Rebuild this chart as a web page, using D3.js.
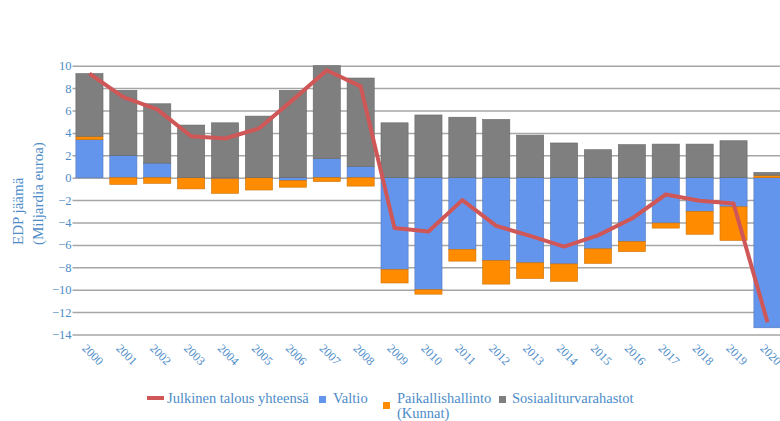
<!DOCTYPE html>
<html>
<head>
<meta charset="utf-8">
<script src="https://cdn.jsdelivr.net/npm/d3@7"></script>
<style>
  body { margin: 0; background: #fff; }
  svg text { font-family: "Liberation Serif", "DejaVu Serif", serif; }
</style>
</head>
<body>
<div id="chart"></div>
<script>
const years = [2000, 2001, 2002, 2003, 2004, 2005, 2006, 2007, 2008, 2009, 2010,
               2011, 2012, 2013, 2014, 2015, 2016, 2017, 2018, 2019, 2020];
const valtio = [3.4, 2.0, 1.3, 0.0, -0.1, 0.0, -0.25, 1.7, 1.0, -8.2, -10.0,
                -6.4, -7.4, -7.6, -7.7, -6.35, -5.7, -4.05, -3.0, -2.6, -13.4];
const paikallis = [0.3, -0.6, -0.5, -1.0, -1.3, -1.1, -0.6, -0.35, -0.75, -1.2, -0.4,
                   -1.05, -2.1, -1.4, -1.55, -1.3, -0.9, -0.45, -2.05, -3.0, 0.22];
const sosiaali = [5.6, 5.8, 5.3, 4.7, 4.9, 5.5, 7.8, 8.3, 7.9, 4.9, 5.6,
                  5.4, 5.2, 3.8, 3.1, 2.5, 2.95, 3.0, 3.0, 3.3, 0.25];
const yhteensa = [9.3, 7.2, 6.1, 3.7, 3.5, 4.4, 6.95, 9.6, 8.15, -4.5, -4.8,
                  -2.0, -4.3, -5.2, -6.15, -5.15, -3.65, -1.5, -2.05, -2.3, -12.9];
const yTicks = [-14, -12, -10, -8, -6, -4, -2, 0, 2, 4, 6, 8, 10];

const keys = ["Valtio", "Paikallishallinto", "Sosiaaliturvarahastot"];
const colors = { Valtio: "#6495ed", Paikallishallinto: "#ff8c00", Sosiaaliturvarahastot: "#7f7f7f" };
const lineColor = "#cf5757";
const textColor = "#4d8cc8";

const width = 780, height = 421;
const step = 33.9;
const plotLeft = 72.5;

const svg = d3.select("#chart").append("svg")
    .attr("width", width)
    .attr("height", height);

const rows = years.map((yr, i) => ({
    year: yr,
    Valtio: valtio[i],
    Paikallishallinto: paikallis[i],
    Sosiaaliturvarahastot: sosiaali[i]
}));

const x = d3.scaleBand()
    .domain(years)
    .range([plotLeft, plotLeft + step * years.length])
    .paddingInner(0.2)
    .paddingOuter(0.1);

const y = d3.scaleLinear()
    .domain([-14, 10])
    .range([334.5, 65.7]);

// grid + y axis labels
const yAxis = svg.append("g")
    .attr("transform", "translate(" + plotLeft + ",0)")
    .call(d3.axisLeft(y).tickValues(yTicks).tickSize(-(width - plotLeft)).tickPadding(1));
yAxis.select(".domain").remove();
yAxis.selectAll(".tick line")
    .attr("stroke", "#a6a6a6")
    .attr("stroke-width", 1.5);
yAxis.selectAll(".tick text")
    .attr("fill", textColor)
    .style("font-size", "12.5px");

const series = d3.stack()
    .keys(keys)
    .offset(d3.stackOffsetDiverging)(rows);

svg.append("g")
    .selectAll("g")
    .data(series)
    .enter().append("g")
    .attr("fill", d => colors[d.key])
    .attr("stroke", d => d3.color(colors[d.key]).darker(0.6))
    .attr("stroke-width", 0.6)
    .selectAll("rect")
    .data(d => d)
    .enter().append("rect")
    .attr("x", d => x(d.data.year))
    .attr("width", x.bandwidth())
    .attr("y", d => y(Math.max(d[0], d[1])))
    .attr("height", d => Math.abs(y(d[0]) - y(d[1])));

const line = d3.line()
    .x((d, i) => x(years[i]) + x.bandwidth() / 2)
    .y(d => y(d));

svg.append("path")
    .datum(yhteensa)
    .attr("d", line)
    .attr("fill", "none")
    .attr("stroke", lineColor)
    .attr("stroke-width", 4)
    .attr("stroke-linejoin", "round");

// x labels, rotated (2020 runs off the edge like in the original)
svg.append("g")
    .selectAll("text")
    .data(years)
    .enter().append("text")
    .attr("transform", d => "translate(" + (x(d) + x.bandwidth() / 2 - 5) + ",346) rotate(45)")
    .attr("fill", textColor)
    .style("font-size", "12px")
    .attr("dy", "0.35em")
    .text(d => d);

// y title
const titleX = [18, 38];
["EDP jäämä", "(Miljardia euroa)"].forEach((t, i) => {
    svg.append("text")
        .attr("transform", "translate(" + (titleX[i] + 5) + ",245) rotate(-90)")
        .attr("fill", textColor)
        .style("font-size", "15px")
        .text(t);
});

// legend
const fs = "14.5px";
const legend = svg.append("g");
legend.append("rect")
    .attr("x", 147).attr("y", 396).attr("width", 17).attr("height", 4)
    .attr("fill", lineColor);
legend.append("text")
    .attr("x", 167).attr("y", 403)
    .attr("fill", textColor).style("font-size", fs)
    .text("Julkinen talous yhteensä");

legend.append("rect")
    .attr("x", 319).attr("y", 396).attr("width", 7).attr("height", 7)
    .attr("fill", colors.Valtio);
legend.append("text")
    .attr("x", 333).attr("y", 403)
    .attr("fill", textColor).style("font-size", fs)
    .text("Valtio");

legend.append("rect")
    .attr("x", 383).attr("y", 402).attr("width", 7).attr("height", 7)
    .attr("fill", colors.Paikallishallinto);
legend.append("text")
    .attr("x", 397).attr("y", 403)
    .attr("fill", textColor).style("font-size", fs)
    .text("Paikallishallinto");
legend.append("text")
    .attr("x", 397).attr("y", 418)
    .attr("fill", textColor).style("font-size", fs)
    .text("(Kunnat)");

legend.append("rect")
    .attr("x", 499).attr("y", 396).attr("width", 7).attr("height", 7)
    .attr("fill", colors.Sosiaaliturvarahastot);
legend.append("text")
    .attr("x", 512).attr("y", 403)
    .attr("fill", textColor).style("font-size", fs)
    .text("Sosiaaliturvarahastot");
</script>
</body>
</html>
